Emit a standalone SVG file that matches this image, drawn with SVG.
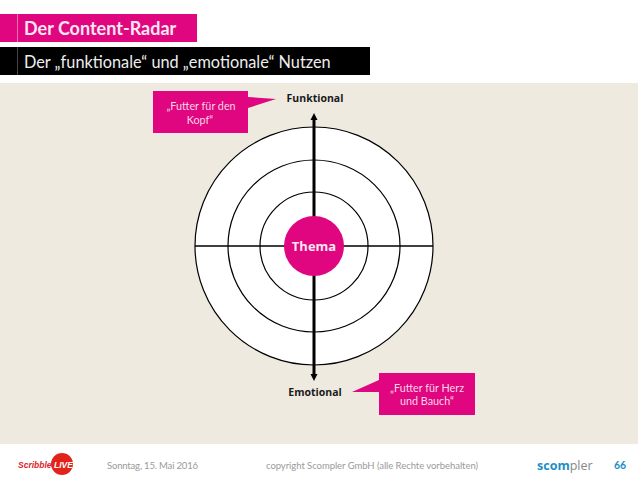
<svg xmlns="http://www.w3.org/2000/svg" width="638" height="479" viewBox="0 0 638 479">
<style>
.l{font-family:Lato,"Liberation Sans",sans-serif}
.o{font-family:"Open Sans","Noto Sans",sans-serif;font-weight:700;font-size:10.500px;fill:#1a1a1a;text-anchor:middle}
.c{font-size:10.800px;fill:#fbd5e8;text-anchor:middle}
.f{font-size:9.500px;fill:#9a9a9a}
.r{fill:none;stroke:#000;stroke-width:1.200}
</style>
<defs><marker id="a" markerUnits="userSpaceOnUse" markerWidth="8" markerHeight="8" refX="1" refY="4" orient="auto-start-reverse"><path d="M0 0.500L7 4L0 7.500Z" fill="#000"/></marker></defs>
<rect width="638" height="479" fill="#fff"/>
<rect y="83" width="638" height="361" fill="#eeeae0"/>
<g id="title"><rect y="14" width="197" height="28" fill="#e0067f"/><path d="M17.500 14V42" stroke="#f06cb0" stroke-width="1"/><text class="l" x="24" y="35" font-size="18" font-weight="700" fill="#fbe6f1">Der Content-Radar</text></g>
<g id="subtitle"><rect y="47" width="370" height="28" fill="#000"/><path d="M17.500 47V75" stroke="#444" stroke-width="1"/><text class="l" x="24" y="68" font-size="16.300" fill="#eee">Der „funktionale“ und „emotionale“ Nutzen</text></g>
<g id="rings"><circle class="r" cx="314" cy="246" r="119" style="fill:#fff"/><circle class="r" cx="314" cy="246" r="86"/><circle class="r" cx="314" cy="246" r="54"/></g>
<g id="connectors">
<path d="M195 246H433" stroke="#000" stroke-width="1.500"/>
<path d="M314 119V375" stroke="#000" stroke-width="3" marker-start="url(#a)" marker-end="url(#a)"/>
</g>
<g id="thema"><circle cx="314" cy="246" r="30" fill="#e0067f"/><text x="314" y="251" font-family="Open Sans,sans-serif" font-weight="700" font-size="13" fill="#fbe6f1" text-anchor="middle">Thema</text></g>
<g id="funktional"><text class="o" x="315" y="102">Funktional</text></g>
<g id="emotional"><text class="o" x="315" y="396">Emotional</text></g>
<g id="callout-kopf"><path d="M153 91H248V97L276 99L248 108V133H153Z" fill="#e0067f"/><text class="l c" x="201" y="110">„Futter für den</text><text class="l c" x="200" y="124">Kopf“</text></g>
<g id="callout-bauch"><path d="M379 373H475V415H379V392H352L379 380Z" fill="#e0067f"/><text class="l c" x="427" y="392">„Futter für Herz</text><text class="l c" x="427" y="405">und Bauch“</text></g>
<g id="footer">
<g id="scribblelive"><circle cx="62" cy="464" r="11" fill="#e2231a"/><text x="18" y="468" font-family="Liberation Sans,sans-serif" font-weight="700" font-style="italic" font-size="8.500" fill="#d9262c">Scribble</text><text x="54" y="468" font-family="Liberation Sans,sans-serif" font-weight="700" font-style="italic" font-size="8.500" fill="#fff">LIVE</text></g>
<text class="l f" x="107" y="469" textLength="91">Sonntag, 15. Mai 2016</text>
<text class="l f" x="266" y="469" textLength="212">copyright Scompler GmbH (alle Rechte vorbehalten)</text>
<text x="537" y="470" font-family="Open Sans,sans-serif" font-size="12.500" font-weight="700" fill="#1d8fc6">scom<tspan font-weight="400" fill="#888">pler</tspan></text>
<text class="l" x="614" y="469" font-size="10.500" font-weight="700" fill="#1d8fc6">66</text>
</g>
</svg>
